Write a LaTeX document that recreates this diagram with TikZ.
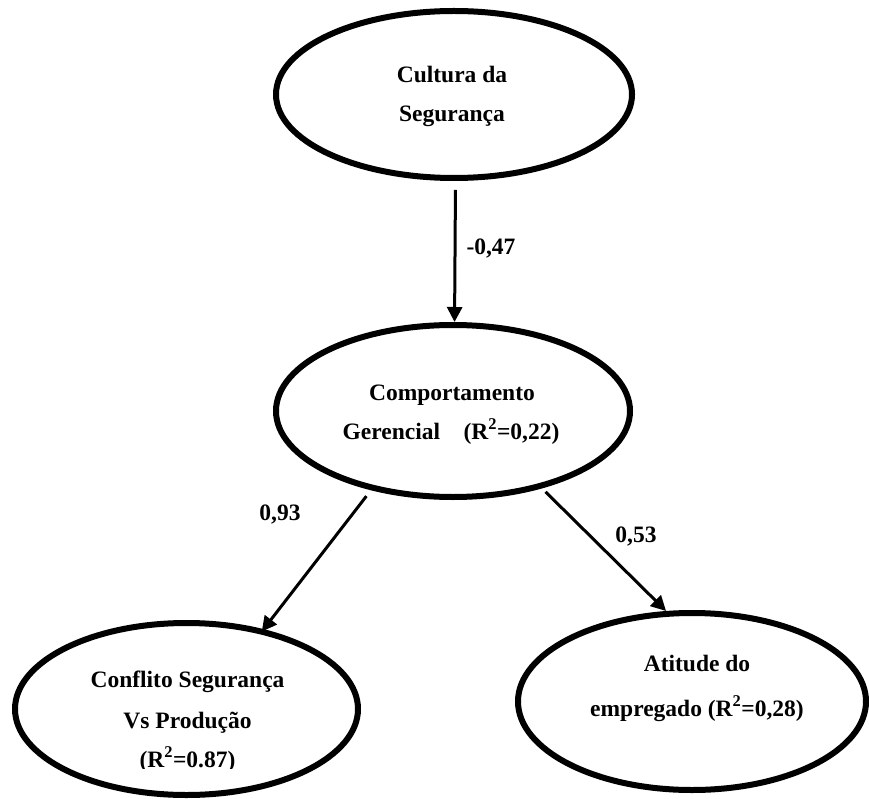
\documentclass[tikz,border=0pt]{standalone}
\usepackage{fontspec}
\setmainfont{Liberation Serif}
\usetikzlibrary{shapes.geometric,arrows.meta}
\tikzset{
  construct/.style={ellipse,draw,line width=6pt,inner sep=0pt},
  txt/.style={anchor=base,inner sep=0pt,font=\bfseries\fontsize{23.5}{28}\selectfont},
  path/.style={line width=3pt,-{Triangle[length=15pt,width=15pt]}}
}
\newcommand{\rsq}{R\textsuperscript{2}}
\begin{document}
\begin{tikzpicture}[x=1pt,y=-1pt]
\useasboundingbox (0,0) rectangle (869,799);

% latent constructs
\node[construct,minimum width=356pt,minimum height=167pt] (cult) at (454,94.5) {};
\node[construct,minimum width=354pt,minimum height=172pt] (comp) at (453,411) {};
\node[construct,minimum width=343pt,minimum height=172pt] (conf) at (186.5,709) {};
\node[construct,minimum width=348pt,minimum height=177pt] (atit) at (692,701.5) {};

% construct labels
\node[txt] (cult1) at (452,83) {Cultura da};
\node[txt] (cult2) at (452,122) {Segurança};
\node[txt] (comp1) at (452,400) {Comportamento};
\node[txt] (comp2) at (451,439) {Gerencial\quad(\rsq=0,22)};
\node[txt] (conf1) at (187.5,687) {Conflito Segurança};
\node[txt] (conf2) at (187.5,728) {Vs Produção};
\begin{scope}
  \clip (0,0) rectangle (869,768);
  \node[txt] (conf3) at (187.5,767) {(\rsq=0.87)};
\end{scope}
\node[txt] (atit1) at (697,671) {Atitude do};
\node[txt] (atit2) at (697,716) {empregado (\rsq=0,28)};

% structural paths
\draw[path,shorten <=9pt] (cult.-89.7) -- (comp.89.5);
\draw[path,shorten <=7.5pt,shorten >=-3pt] (comp.-136.7) -- (conf.46.3);
\draw[path,shorten <=5pt] (comp.-41.4) -- (atit.106.8);

% path coefficients
\node[txt] (c1) at (491,255) {-0,47};
\node[txt] (c2) at (280,520) {0,93};
\node[txt] (c3) at (636,542) {0,53};
\end{tikzpicture}
\end{document}
